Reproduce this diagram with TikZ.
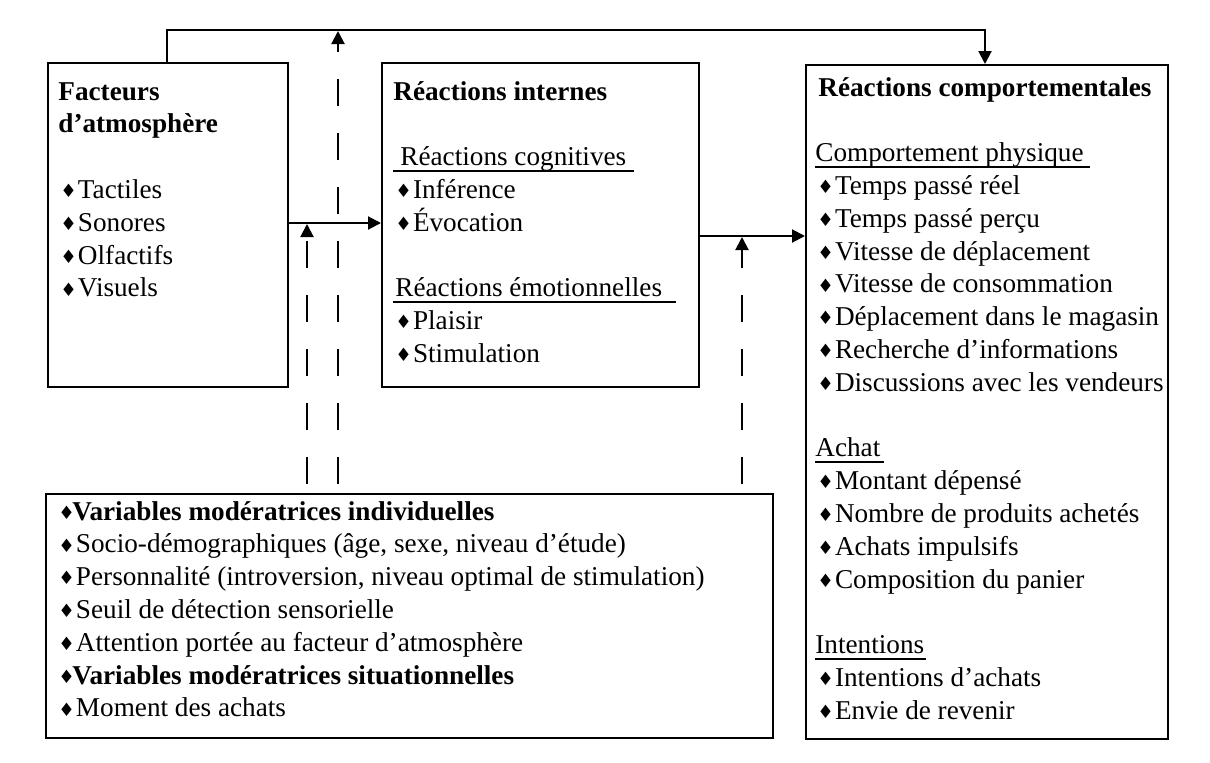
\documentclass[tikz,border=0pt]{standalone}
\usepackage{fontspec}
\setmainfont{Liberation Serif}
\newfontfamily\symb{DejaVu Sans}
\usetikzlibrary{arrows.meta}

\newcommand\puce[1][9.8pt]{\makebox[#1][l]{\hspace{1pt}\raisebox{0.4pt}{\symb\fontsize{9.2}{9.2}\selectfont ♦}}}
\newcommand\souligne[1]{\setbox0\hbox{#1}\rlap{\rule[-3pt]{\wd0}{0.9pt}}\box0}

\begin{document}
\begin{tikzpicture}[x={(0.5pt,0pt)}, y={(0pt,-0.5pt)},
    >={Triangle[length=6.5pt,width=6.5pt]},
    boite/.style={draw, line width=1.1pt, anchor=north west, inner sep=0pt},
    texte/.style={anchor=base west, align=left, inner sep=0pt, font=\fontsize{13.6pt}{16.4pt}\selectfont},
    lien/.style={line width=1pt},
    tirets/.style={line width=1pt, dash pattern=on 13.5pt off 13.5pt, dash phase=22.5pt}]
    \useasboundingbox (0,0) rectangle (1210,762);

    \node[boite, minimum width=120pt, minimum height=162pt] (facteurs) at (47,62) {};
    \node[boite, minimum width=158.5pt, minimum height=162pt] (internes) at (381,62) {};
    \node[boite, minimum width=181pt, minimum height=337pt] (comport) at (805,64) {};
    \node[boite, minimum width=363.5pt, minimum height=122pt] (moder) at (45,493) {};

    % texts are placed by the baseline of their last line
    \node[texte] (facteurs-t) at (58,296.8) {\textbf{Facteurs}\\\textbf{d’atmosphère}\\[16.4pt]
        \puce Tactiles\\\puce Sonores\\\puce Olfactifs\\\puce Visuels};
    \node[texte] (internes-t) at (393,362.4) {\textbf{Réactions internes}\\[16.4pt]
        \souligne{\hspace{3.5pt}Réactions cognitives\hspace{4pt}}\\\puce Inférence\\\puce Évocation\\[16.4pt]
        \souligne{\hspace{1pt}Réactions émotionnelles\hspace{7pt}}\\\puce Plaisir\\\puce Stimulation};
    \node[texte] (comport-t) at (815,719.2) {\hspace{1.5pt}\textbf{Réactions comportementales}\\[16.4pt]
        \souligne{Comportement physique\hspace{3pt}}\\\puce Temps passé réel\\\puce Temps passé perçu\\
        \puce Vitesse de déplacement\\\puce Vitesse de consommation\\\puce Déplacement dans le magasin\\
        \puce Recherche d’informations\\\puce Discussions avec les vendeurs\\[16.4pt]
        \souligne{Achat\hspace{2pt}}\\\puce Montant dépensé\\\puce Nombre de produits achetés\\
        \puce Achats impulsifs\\\puce Composition du panier\\[16.4pt]
        \souligne{Intentions\hspace{1pt}}\\\puce Intentions d’achats\\\puce Envie de revenir};
    \node[texte] (moder-t) at (56,716.8) {\puce[8pt]\textbf{Variables modératrices individuelles}\\
        \puce Socio-démographiques (âge, sexe, niveau d’étude)\\
        \puce Personnalité (introversion, niveau optimal de stimulation)\\
        \puce Seuil de détection sensorielle\\
        \puce Attention portée au facteur d’atmosphère\\
        \puce[8pt]\textbf{Variables modératrices situationnelles}\\
        \puce Moment des achats};

    \coordinate (h1) at (0,223);
    \coordinate (h2) at (0,236);
    \coordinate (t1) at (307,224);
    \coordinate (t2) at (338,31);
    \coordinate (t3) at (742,237);

    \draw[lien,->] ([xshift=60pt]facteurs.north west) -- ++(0,-32) -| ([xshift=90pt]comport.north west);
    \draw[lien,->] (facteurs.east |- h1) -- (internes.west |- h1);
    \draw[lien,->] (internes.east |- h2) -- (comport.west |- h2);

    \draw[tirets,->] (moder.north -| t1) -- (t1);
    \draw[tirets,->] (moder.north -| t2) -- (t2);
    \draw[tirets,->] (moder.north -| t3) -- (t3);
\end{tikzpicture}
\end{document}
